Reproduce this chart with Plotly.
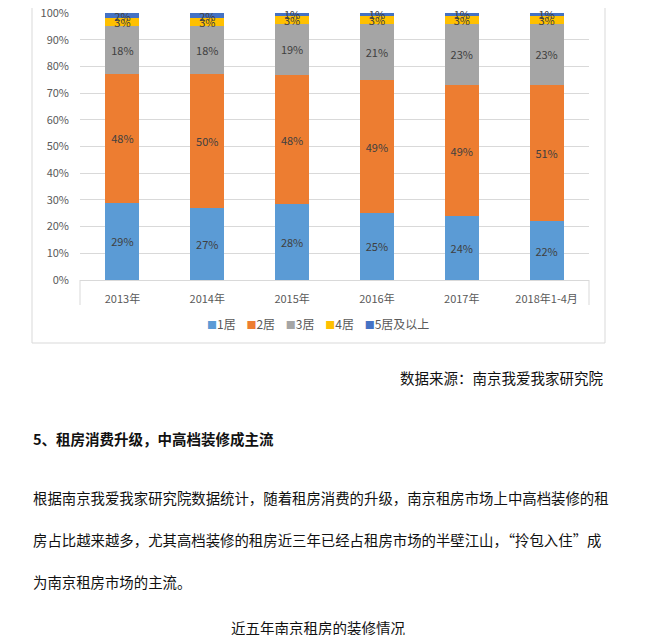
import plotly.graph_objects as go

# categories and series (values in %)
years = ['2013年', '2014年', '2015年', '2016年', '2017年', '2018年1-4月']
names = ['1居', '2居', '3居', '4居', '5居及以上']
one_room = [29, 27, 28, 25, 24, 22]
two_room = [48, 50, 48, 49, 49, 51]
three_room = [18, 18, 19, 21, 23, 23]
four_room = [3, 3, 3, 3, 3, 3]
five_plus = [2, 2, 1, 1, 1, 1]
colors = ['#5B9BD5', '#ED7D31', '#A5A5A5', '#FFC000', '#4472C4']

series = [one_room, two_room, three_room, four_room, five_plus]

# page text below the chart
source_text = '数据来源：南京我爱我家研究院'
heading_text = '5、租房消费升级，中高档装修成主流'
para_lines = [
    '根据南京我爱我家研究院数据统计，随着租房消费的升级，南京租房市场上中高档装修的租',
    '房占比越来越多，尤其高档装修的租房近三年已经占租房市场的半壁江山，“拎包入住”成',
    '为南京租房市场的主流。',
]
caption_text = '近五年南京租房的装修情况'

FONT = 'Noto Sans CJK SC'
W, H = 650, 635
OFF = 8  # page body margin
# plot area in screen pixels: x 80..589, y 13..280
L = 80 - OFF
T = 13 - OFF
R = W - (589 - OFF)
B = H - (280 - OFF)
pw = W - L - R
ph = H - T - B


# screen pixel -> paper coords
def px(x):
    return (x - OFF - L) / pw


def py(y):
    return (H - B - (y - OFF)) / ph


fig = go.Figure()
for name, vals, c in zip(names, series, colors):
    fig.add_trace(go.Bar(
        x=years, y=vals, name=name, marker=dict(color=c, line=dict(width=0)),
        text=['%d%%' % v for v in vals], textposition='inside',
        insidetextanchor='middle', textangle=0, constraintext='none', cliponaxis=False,
        textfont=dict(family=FONT, size=11, color='#404040'),
        showlegend=False,
    ))

# legend drawn as text row
legend_html = '&nbsp;&nbsp;&nbsp;&nbsp;'.join(
    "<span style='color:%s;font-size:10px'>■</span>%s" % (c, n) for n, c in zip(names, colors))

annotations = [
    dict(text=legend_html, x=px(318), y=py(323), xref='paper', yref='paper',
         showarrow=False, xanchor='center', yanchor='middle',
         font=dict(family=FONT, size=12, color='#595959')),
    dict(text=source_text, x=px(605), y=py(377), xref='paper', yref='paper',
         showarrow=False, xanchor='right', yanchor='middle',
         font=dict(family=FONT, size=14.5, color='#111111')),
    dict(text='<b>' + heading_text + '</b>', x=px(31), y=py(438), xref='paper', yref='paper',
         showarrow=False, xanchor='left', yanchor='middle',
         font=dict(family=FONT, size=14.5, color='#111111')),
    dict(text=caption_text, x=px(318), y=py(627), xref='paper', yref='paper',
         showarrow=False, xanchor='center', yanchor='middle',
         font=dict(family=FONT, size=14.5, color='#111111')),
]
for i, line in enumerate(para_lines):
    annotations.append(dict(text=line, x=px(31), y=py(497 + 42 * i), xref='paper', yref='paper',
                            showarrow=False, xanchor='left', yanchor='middle',
                            font=dict(family=FONT, size=14.4, color='#111111')))

shapes = [
    # chart frame
    dict(type='rect', xref='paper', yref='paper', x0=px(32), x1=px(605), y0=py(343), y1=py(-5),
         line=dict(color='#D9D9D9', width=1)),
    # end ticks of the category axis
    dict(type='line', xref='paper', yref='paper', x0=0, x1=0, y0=0, y1=py(305),
         line=dict(color='#D9D9D9', width=1)),
    dict(type='line', xref='paper', yref='paper', x0=1, x1=1, y0=0, y1=py(305),
         line=dict(color='#D9D9D9', width=1)),
]

fig.update_layout(
    width=W, height=H, margin=dict(l=L, r=R, t=T, b=B, autoexpand=False),
    barmode='stack', barnorm='percent', bargap=0.6,
    paper_bgcolor='white', plot_bgcolor='white',
    uniformtext=dict(minsize=11, mode='show'),
    xaxis=dict(showline=True, linecolor='#D9D9D9', linewidth=1, ticks='', ticklabelstandoff=9,
               automargin=False, tickfont=dict(family=FONT, size=11, color='#595959')),
    yaxis=dict(range=[0, 100], dtick=10, ticksuffix='%', showgrid=True, gridcolor='#D9D9D9',
               zeroline=False, showline=False, ticklabelstandoff=10, automargin=False,
               ticklabeloverflow='allow',
               tickfont=dict(family=FONT, size=11, color='#595959')),
    annotations=annotations, shapes=shapes,
)

fig.write_html('out.html')
